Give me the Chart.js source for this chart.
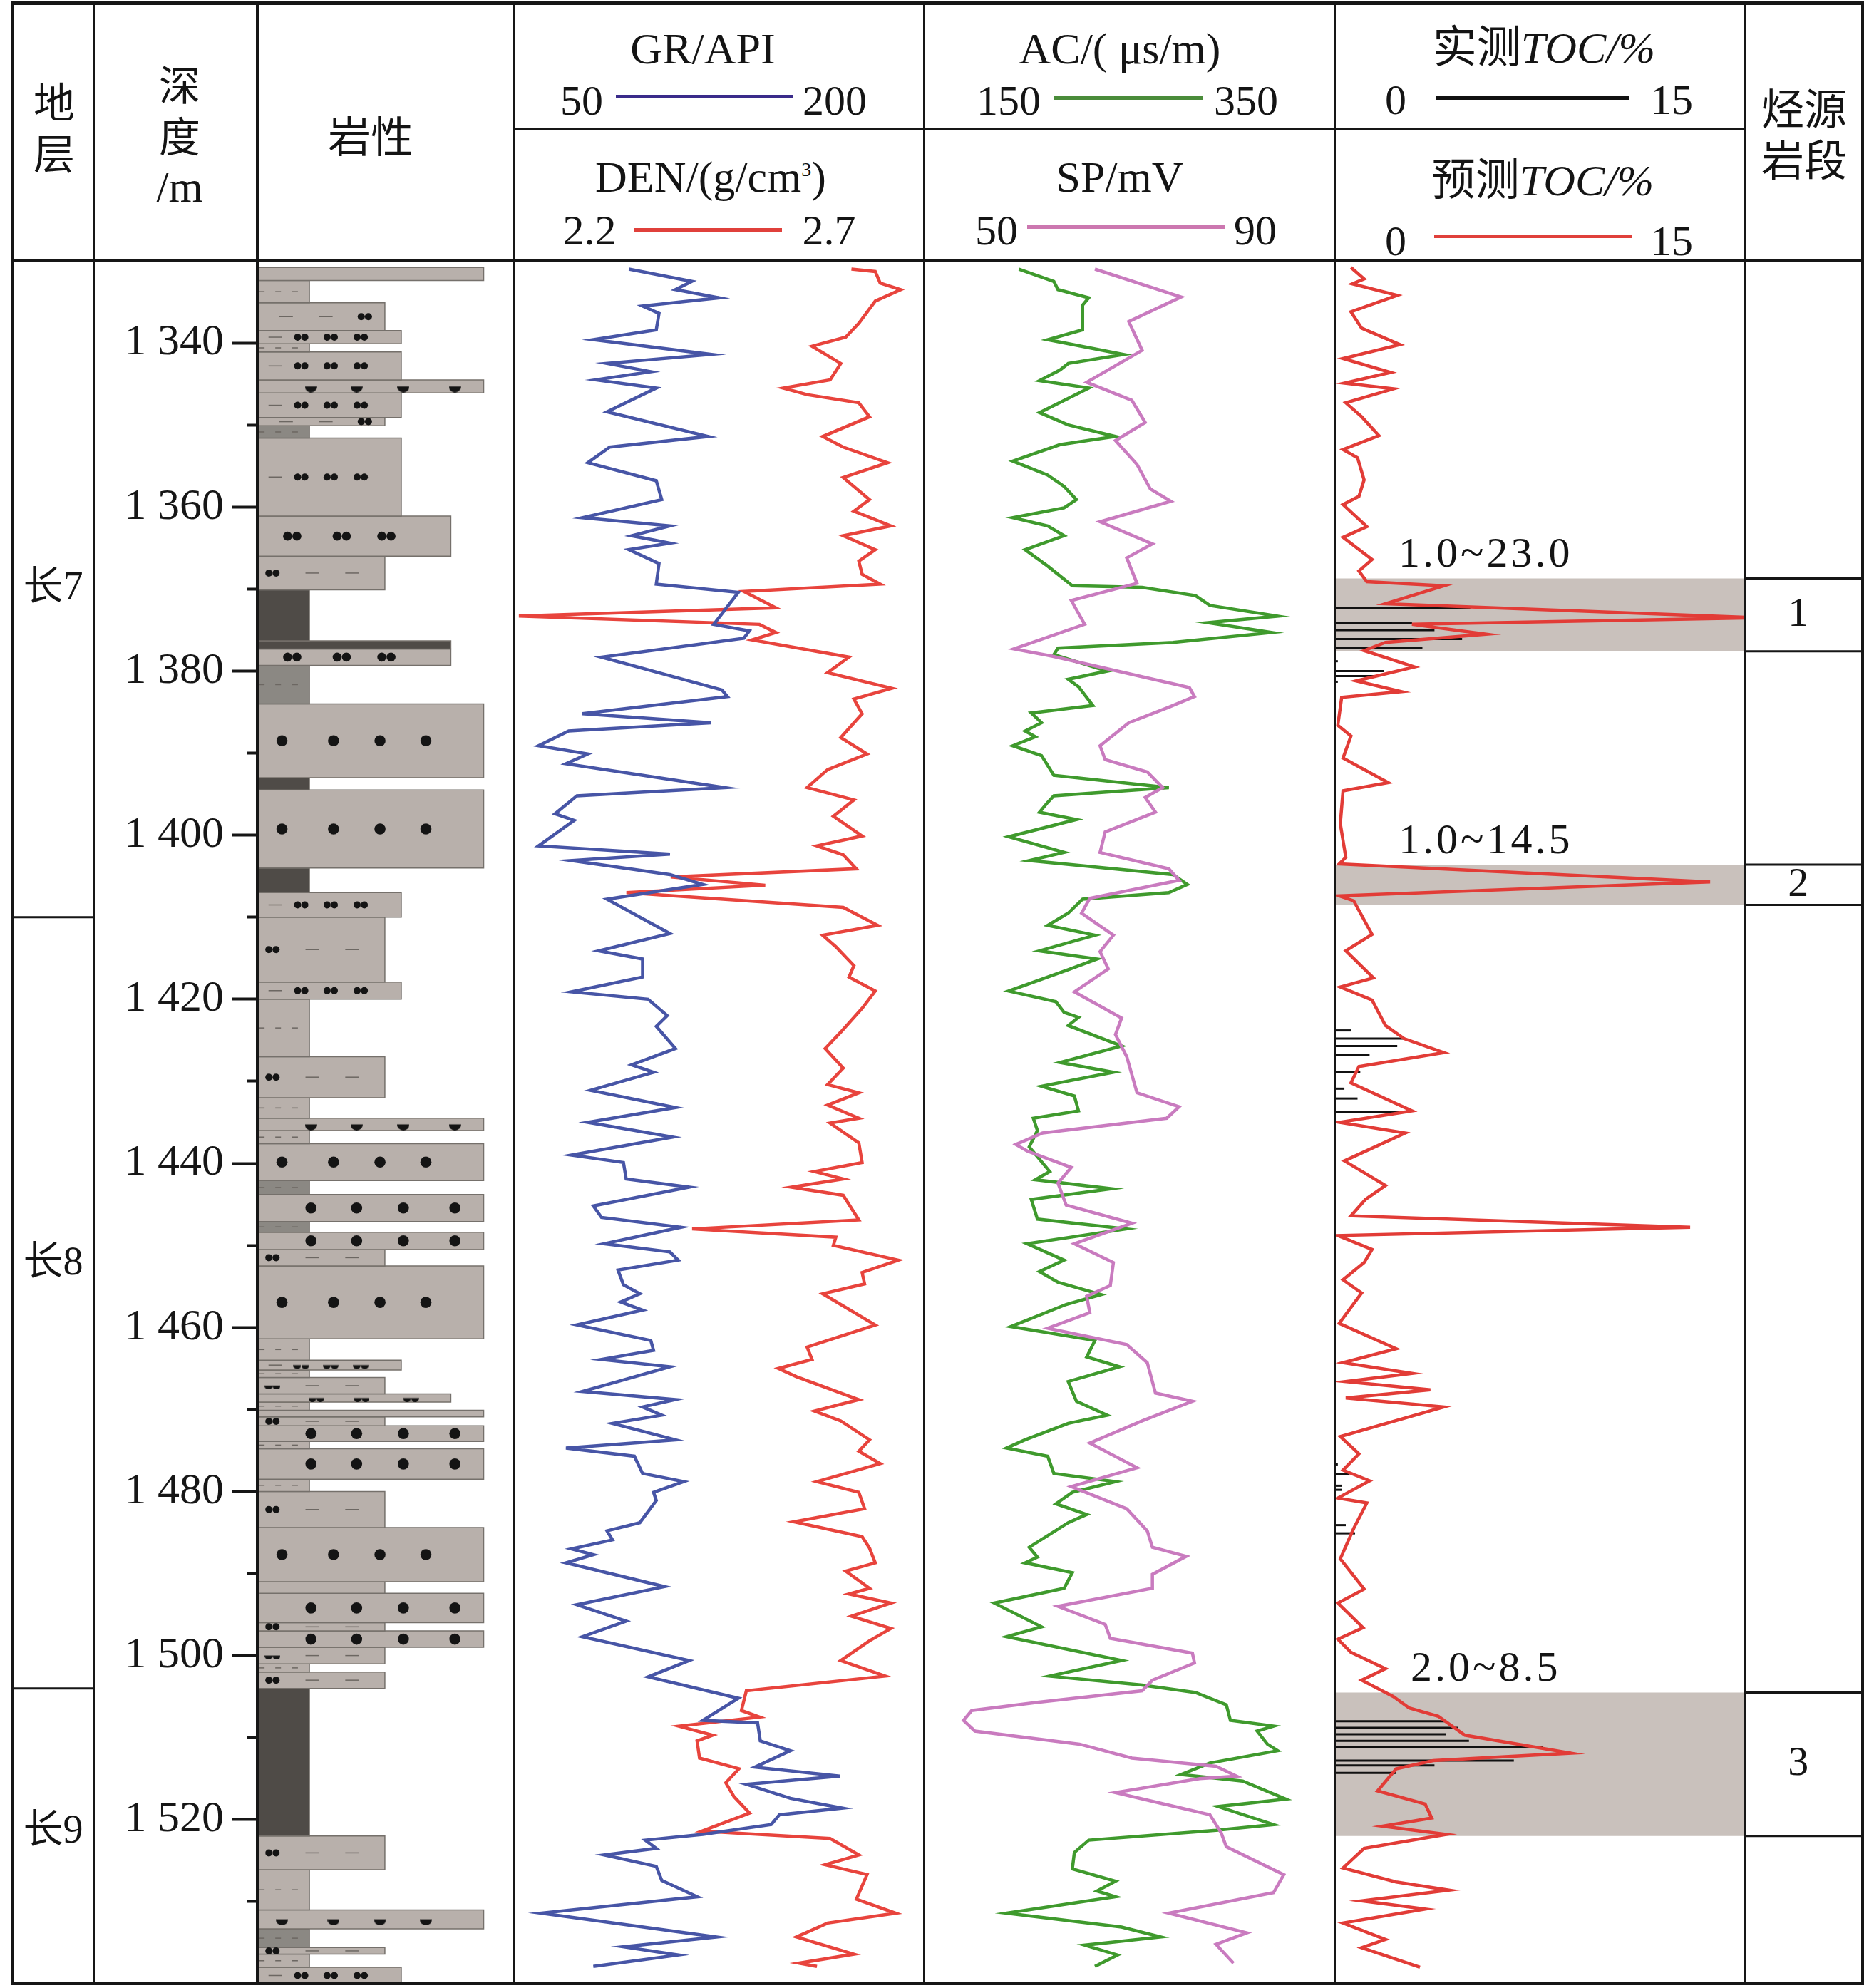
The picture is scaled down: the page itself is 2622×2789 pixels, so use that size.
<!DOCTYPE html>
<html><head><meta charset="utf-8">
<script src="https://cdn.jsdelivr.net/npm/chart.js@4.4.0/dist/chart.umd.min.js"></script>
<style>
html,body{margin:0;padding:0;background:#fff;}
body{width:2622px;height:2789px;position:relative;overflow:hidden;font-family:"Liberation Serif","Noto Sans CJK SC",serif;color:#141414;}
canvas{position:absolute;}
.ln{position:absolute;background:#161616;z-index:5;}
.sw{position:absolute;z-index:5;}
.t{position:absolute;white-space:nowrap;transform:translate(-50%,-50%);line-height:1;z-index:6;}
.cjk{font-family:"Noto Sans CJK SC",sans-serif;}
</style></head><body>

<!-- header texts -->
<div class="t cjk" style="left:76px;top:140px;font-size:58px">地</div>
<div class="t cjk" style="left:76px;top:212px;font-size:58px">层</div>
<div class="t cjk" style="left:252px;top:116px;font-size:58px">深</div>
<div class="t cjk" style="left:252px;top:188px;font-size:58px">度</div>
<div class="t" style="left:252px;top:262px;font-size:62px">/m</div>
<div class="t cjk" style="left:520px;top:188px;font-size:60px">岩性</div>

<div class="t" style="left:986px;top:68px;font-size:62px">GR/API</div>
<div class="t" style="left:816px;top:141px;font-size:60px">50</div>
<div class="sw" style="left:864px;top:133px;width:248px;height:5px;background:#3a2b8a"></div>
<div class="t" style="left:1171px;top:141px;font-size:60px">200</div>
<div class="t" style="left:997px;top:248px;font-size:62px">DEN/(g/cm<sup style="font-size:28px">3</sup>)</div>
<div class="t" style="left:827px;top:323px;font-size:60px">2.2</div>
<div class="sw" style="left:890px;top:320px;width:207px;height:5px;background:#e0403b"></div>
<div class="t" style="left:1163px;top:323px;font-size:60px">2.7</div>

<div class="t" style="left:1571px;top:68px;font-size:62px">AC/( μs/m)</div>
<div class="t" style="left:1415px;top:141px;font-size:60px">150</div>
<div class="sw" style="left:1478px;top:135px;width:209px;height:5px;background:#4a8c3a"></div>
<div class="t" style="left:1748px;top:141px;font-size:60px">350</div>
<div class="t" style="left:1571px;top:248px;font-size:62px">SP/mV</div>
<div class="t" style="left:1398px;top:323px;font-size:60px">50</div>
<div class="sw" style="left:1441px;top:316px;width:278px;height:5px;background:#cc77b0"></div>
<div class="t" style="left:1761px;top:323px;font-size:60px">90</div>

<div class="t" style="left:2166px;top:64px;font-size:62px"><span class="cjk">实测</span><i>TOC/%</i></div>
<div class="t" style="left:1958px;top:140px;font-size:60px">0</div>
<div class="sw" style="left:2014px;top:135px;width:272px;height:5px;background:#111"></div>
<div class="t" style="left:2345px;top:140px;font-size:60px">15</div>
<div class="t" style="left:2164px;top:250px;font-size:62px"><span class="cjk">预测</span><i>TOC/%</i></div>
<div class="t" style="left:1958px;top:338px;font-size:60px">0</div>
<div class="sw" style="left:2012px;top:329px;width:278px;height:5px;background:#e0403b"></div>
<div class="t" style="left:2345px;top:338px;font-size:60px">15</div>

<div class="t cjk" style="left:2531px;top:149px;font-size:60px">烃源</div>
<div class="t cjk" style="left:2531px;top:221px;font-size:60px">岩段</div>

<!-- chart canvases (data area y 366..2783) -->
<canvas id="cStrata" width="115" height="2417" style="left:17px;top:366px;width:115px;height:2417px"></canvas>
<canvas id="cLith" width="589" height="2417" style="left:132px;top:366px;width:589px;height:2417px"></canvas>
<canvas id="cGR" width="576" height="2417" style="left:721px;top:366px;width:576px;height:2417px"></canvas>
<canvas id="cAC" width="576" height="2417" style="left:1297px;top:366px;width:576px;height:2417px"></canvas>
<canvas id="cTOC" width="576" height="2417" style="left:1873px;top:366px;width:576px;height:2417px"></canvas>
<canvas id="cSrc" width="164" height="2417" style="left:2449px;top:366px;width:164px;height:2417px"></canvas>

<!-- table frame -->
<div class="ln" style="left:15px;top:2px;width:2600px;height:5px"></div>
<div class="ln" style="left:15px;top:2780px;width:2600px;height:5px"></div>
<div class="ln" style="left:15px;top:364px;width:2600px;height:4px"></div>
<div class="ln" style="left:721px;top:180px;width:1728px;height:3px"></div>
<div class="ln" style="left:15px;top:2px;width:4px;height:2783px"></div>
<div class="ln" style="left:130px;top:2px;width:3px;height:2783px"></div>
<div class="ln" style="left:359px;top:2px;width:4px;height:2783px"></div>
<div class="ln" style="left:719px;top:2px;width:3px;height:2783px"></div>
<div class="ln" style="left:1295px;top:2px;width:3px;height:2783px"></div>
<div class="ln" style="left:1871px;top:2px;width:3px;height:2783px"></div>
<div class="ln" style="left:2447px;top:2px;width:3px;height:2783px"></div>
<div class="ln" style="left:2611px;top:2px;width:4px;height:2783px"></div>

<script>
// ---------------- DATA ----------------
const DEPTH_MIN = 1330, DEPTH_MAX = 1540;
const depthTicks = [1340, 1360, 1380, 1400, 1420, 1440, 1460, 1480, 1500, 1520];
const depthMinorTicks = [1340, 1350, 1360, 1370, 1380, 1390, 1400, 1410, 1420, 1430, 1440, 1450, 1460, 1470, 1480, 1490, 1500, 1510, 1520, 1530];

const strataNames = ['长7', '长8', '长9'];
const strataTop = [1330, 1410, 1504];
const strataBot = [1410, 1504, 1540];
const strataLabelDepth = [1370, 1452.3, 1521.5];

const zoneNames = ['1', '2', '3'];
const zoneTop = [1368.7, 1403.6, 1504.5];
const zoneBot = [1377.6, 1408.5, 1522.0];
const zoneRange = ['1.0~23.0', '1.0~14.5', '2.0~8.5'];

// lithology layers: top, base, code
const lithTop = [1330.8,1332.4,1335.1,1338.5,1340.1,1341.1,1344.5,1346.1,1349.1,1350.1,1351.6,1361.1,1366.0,1370.1,1376.3,1377.3,1379.3,1384.0,1393.0,1394.5,1404.0,1407.0,1410.0,1417.9,1420.0,1427.0,1432.0,1434.5,1436.0,1437.6,1442.1,1443.8,1447.1,1448.4,1450.5,1452.5,1461.4,1464.0,1465.2,1466.1,1468.1,1469.1,1470.1,1470.9,1472.0,1473.9,1474.8,1478.5,1480.0,1484.4,1491.0,1492.4,1496.0,1497.0,1499.0,1501.0,1502.0,1504.0,1522.0,1526.1,1531.0,1533.3,1535.6,1536.4,1538.0];
const lithBot = [1332.4,1335.1,1338.5,1340.1,1341.1,1344.5,1346.1,1349.1,1350.1,1351.6,1361.1,1366.0,1370.1,1376.3,1377.3,1379.3,1384.0,1393.0,1394.5,1404.0,1407.0,1410.0,1417.9,1420.0,1427.0,1432.0,1434.5,1436.0,1437.6,1442.1,1443.8,1447.1,1448.4,1450.5,1452.5,1461.4,1464.0,1465.2,1466.1,1468.1,1469.1,1470.1,1470.9,1472.0,1473.9,1474.8,1478.5,1480.0,1484.4,1491.0,1492.4,1496.0,1497.0,1499.0,1501.0,1502.0,1504.0,1522.0,1526.1,1531.0,1533.3,1535.6,1536.4,1538.0,1540.0];
const lithCode = ['P88','M','LS','ST','M','ST','Gb','ST','LS','Md','ST','FS','SL','S','S75','FS','Md','MSa','S','MSa','S','ST','SL','ST','M','SL','M','Gb','M','MSa','Md','MSb','Md','MSb','SL','MSa','M','STh','M','SLh','FSh','M','P88','SL','MSb','M','MSb','M','SL','MSa','P50','MSb','SL','MSb','SLh','M','SL','S','SL','M','Ga','Md','SL','M','ST'];

// GR (API)
const grDepth = [1331.0,1332.5,1333.5,1334.5,1335.5,1336.4,1338.4,1339.6,1341.4,1342.5,1343.5,1344.5,1345.5,1348.4,1351.4,1352.7,1354.6,1356.8,1359.1,1361.3,1362.3,1363.5,1364.4,1365.2,1366.9,1369.4,1370.4,1374.3,1375.1,1376.0,1378.3,1382.3,1383.1,1385.2,1386.3,1387.3,1389.1,1390.1,1391.3,1394.2,1395.2,1397.4,1398.2,1401.3,1402.3,1403.1,1404.8,1406.0,1407.8,1412.0,1414.1,1415.1,1417.3,1419.1,1420.0,1422.0,1423.3,1426.0,1428.0,1428.9,1431.1,1433.2,1435.0,1436.8,1439.0,1439.9,1441.9,1442.9,1445.2,1446.6,1447.8,1449.8,1450.8,1451.8,1453.0,1454.8,1455.9,1456.9,1457.9,1459.7,1461.6,1462.8,1463.9,1464.8,1466.6,1467.8,1468.8,1469.7,1470.7,1471.7,1473.7,1474.7,1475.7,1477.8,1478.8,1480.1,1481.1,1483.8,1484.8,1485.9,1487.0,1487.7,1488.7,1491.6,1493.8,1495.8,1497.7,1500.6,1502.6,1505.2,1507.9,1508.2,1510.4,1511.6,1513.6,1514.7,1515.7,1517.4,1518.6,1519.4,1520.6,1521.8,1522.5,1523.5,1524.3,1525.7,1527.4,1529.4,1531.4,1534.3,1535.5,1536.5,1537.9];
const grValue = [92,115,109,125,97,103,102,79,122,84,100,80,102,84,121,85,77,102,104,75,107,93,107,92,103,102,132,123,136,134,82,126,128,75,122,70,59,77,69,127,73,65,72,59,107,71,107,119,84,107,81,97,97,71,99,106,102,109,93,101,78,109,77,108,71,90,91,114,79,82,111,83,107,110,88,90,96,89,97,73,100,101,82,107,88,75,109,97,104,86,109,69,94,97,112,101,102,96,84,86,71,79,69,105,73,91,75,114,99,132,119,139,140,151,138,169,135,151,170,147,144,119,98,102,83,102,104,117,60,124,90,110,79];

// DEN (g/cm3)
const denDepth = [1331.0,1331.3,1332.7,1333.5,1334.9,1337.6,1339.3,1340.4,1342.5,1344.5,1345.5,1346.3,1347.3,1349.0,1351.4,1352.7,1354.6,1356.4,1359.1,1360.5,1362.3,1363.5,1365.2,1366.6,1368.2,1369.4,1370.3,1372.3,1373.3,1374.3,1375.3,1376.2,1378.3,1380.2,1382.1,1383.4,1385.2,1388.1,1390.1,1392.0,1394.2,1395.7,1397.7,1400.1,1401.3,1402.4,1404.1,1405.1,1406.1,1407.0,1408.8,1411.0,1412.2,1413.6,1415.9,1417.3,1419.0,1421.1,1424.0,1426.0,1428.4,1430.4,1431.4,1432.9,1434.5,1435.1,1437.5,1439.9,1441.0,1441.9,1442.9,1443.9,1446.9,1448.0,1449.0,1450.0,1451.8,1453.3,1454.7,1455.9,1459.7,1462.4,1463.9,1465.0,1466.0,1468.8,1470.2,1471.4,1473.7,1475.1,1476.6,1478.8,1480.1,1482.1,1483.7,1485.5,1486.9,1488.7,1489.7,1491.8,1492.5,1493.6,1495.2,1496.7,1498.2,1500.6,1502.5,1504.3,1506.7,1507.5,1508.6,1509.7,1510.4,1512.5,1513.8,1515.5,1517.2,1519.2,1521.4,1522.3,1524.3,1525.5,1526.7,1529.7,1531.4,1532.6,1534.3,1536.4,1537.5,1537.9];
const denValue = [2.611,2.640,2.646,2.671,2.640,2.620,2.604,2.563,2.598,2.585,2.528,2.557,2.620,2.633,2.576,2.601,2.655,2.601,2.633,2.614,2.659,2.601,2.640,2.620,2.624,2.646,2.480,2.519,2.206,2.499,2.519,2.490,2.608,2.582,2.660,2.614,2.624,2.598,2.630,2.582,2.557,2.614,2.589,2.624,2.569,2.601,2.617,2.391,2.506,2.337,2.601,2.643,2.576,2.592,2.614,2.608,2.640,2.624,2.598,2.579,2.601,2.582,2.620,2.582,2.620,2.585,2.620,2.624,2.566,2.601,2.538,2.601,2.620,2.417,2.592,2.589,2.668,2.624,2.627,2.576,2.640,2.557,2.563,2.522,2.544,2.620,2.566,2.598,2.633,2.620,2.646,2.569,2.620,2.627,2.541,2.624,2.633,2.640,2.604,2.633,2.608,2.659,2.611,2.659,2.633,2.598,2.652,2.483,2.477,2.499,2.401,2.442,2.423,2.426,2.474,2.458,2.468,2.487,2.429,2.585,2.620,2.579,2.630,2.617,2.665,2.582,2.544,2.614,2.547,2.569];

// AC (us/m)
const acDepth = [1331.0,1332.5,1333.5,1334.5,1335.4,1338.4,1339.6,1341.4,1342.5,1343.3,1344.6,1345.5,1347.0,1348.5,1350.0,1351.4,1352.4,1354.4,1356.1,1357.5,1359.1,1360.1,1361.3,1362.3,1363.5,1365.2,1367.2,1369.6,1369.8,1370.8,1372.0,1373.3,1374.1,1375.3,1376.5,1377.2,1378.0,1380.0,1381.0,1381.9,1384.2,1385.1,1386.3,1387.3,1388.0,1389.1,1390.3,1392.7,1394.2,1395.2,1396.0,1397.2,1398.1,1400.2,1402.1,1403.1,1404.8,1406.0,1407.0,1407.8,1409.5,1411.0,1412.2,1414.1,1415.1,1416.4,1419.0,1420.3,1421.6,1422.2,1423.2,1425.7,1427.7,1428.9,1430.6,1431.8,1433.6,1434.5,1436.0,1438.0,1441.0,1442.0,1443.1,1444.4,1446.8,1448.0,1449.8,1451.8,1453.2,1454.5,1456.0,1457.2,1459.9,1461.6,1463.6,1464.8,1466.6,1469.0,1470.7,1471.7,1473.7,1474.7,1475.7,1477.8,1478.8,1480.1,1481.5,1482.8,1483.8,1486.8,1488.0,1488.7,1489.9,1491.8,1493.6,1496.5,1497.7,1500.6,1502.5,1503.6,1504.5,1506.0,1507.9,1508.6,1509.2,1510.8,1511.6,1513.1,1514.5,1515.3,1517.5,1518.4,1520.6,1521.3,1522.5,1524.0,1526.0,1527.5,1528.7,1529.4,1531.4,1533.1,1534.3,1535.3,1536.5,1537.9];
const acValue = [196,213,215,230,227,227,210,247,220,216,206,230,218,206,220,243,216,193,210,218,224,218,193,210,218,199,210,222,256,282,289,322,288,319,271,215,213,239,220,225,232,202,207,199,204,193,207,213,269,213,210,206,224,191,218,201,271,278,269,227,220,210,233,206,234,220,191,214,218,225,220,246,216,242,207,223,225,203,205,201,211,204,241,202,205,248,200,218,206,215,236,219,192,233,229,245,220,224,239,220,199,190,210,213,243,222,214,229,220,201,205,199,222,218,184,207,190,246,211,256,282,297,299,320,312,317,322,289,275,305,326,293,320,292,230,223,222,243,234,243,190,246,265,228,244,233];

// SP (mV)
const spDepth = [1331.0,1334.4,1337.4,1340.9,1344.8,1347.0,1349.7,1351.9,1354.8,1357.8,1359.3,1361.8,1364.5,1366.2,1369.3,1371.4,1374.3,1377.3,1378.2,1382.0,1383.1,1384.4,1386.3,1389.1,1390.8,1392.3,1394.2,1395.4,1397.2,1399.6,1402.1,1404.1,1405.5,1407.7,1409.5,1412.2,1414.2,1416.3,1419.1,1422.3,1424.3,1427.0,1431.4,1433.1,1434.5,1436.3,1437.7,1438.5,1440.5,1442.4,1445.1,1447.3,1449.8,1452.1,1454.9,1456.2,1458.2,1460.1,1462.1,1464.3,1468.0,1469.0,1471.4,1474.1,1477.1,1479.4,1482.1,1484.8,1486.8,1487.9,1490.1,1491.8,1494.0,1496.2,1497.9,1499.7,1500.9,1503.0,1504.3,1505.7,1506.7,1507.9,1509.2,1510.8,1512.5,1513.5,1514.7,1515.0,1516.7,1518.0,1519.4,1521.6,1523.3,1526.7,1528.9,1531.4,1533.8,1535.2,1537.5];
const spValue = [66.6,75.0,69.9,71.2,65.8,70.2,71.5,68.6,70.7,72.0,74.0,67.1,72.2,69.7,70.7,64.3,65.6,58.7,62.5,75.8,76.3,73.8,69.9,67.1,67.6,71.7,73.2,71.5,72.5,67.6,67.1,73.8,74.8,66.1,65.3,68.4,67.1,67.9,64.6,69.2,68.6,69.7,70.7,74.8,73.6,61.5,58.9,60.0,64.3,63.0,63.8,70.2,64.6,68.4,68.1,65.8,66.1,62.0,69.7,71.7,72.5,76.1,71.2,66.1,70.7,64.3,69.7,71.7,72.2,75.5,72.2,72.2,63.0,67.6,68.1,76.1,76.3,72.2,71.2,61.0,54.6,53.8,54.9,65.1,70.2,78.4,80.4,76.8,68.6,73.0,77.8,78.9,79.4,85.0,84.0,73.8,81.4,78.4,80.1];

// predicted TOC (%)
const tocPredDepth = [1330.8,1332.2,1332.8,1334.2,1336.2,1338.2,1340.2,1341.9,1343.6,1344.9,1345.6,1347.3,1349.0,1351.3,1353.0,1354.0,1356.7,1358.7,1359.7,1362.4,1363.7,1366.4,1367.8,1369.1,1369.6,1371.8,1373.5,1374.3,1375.5,1376.5,1377.5,1379.5,1381.2,1382.5,1383.2,1386.6,1387.9,1390.6,1393.6,1394.6,1398.6,1402.7,1403.5,1405.7,1407.4,1408.0,1412.1,1414.1,1417.4,1418.5,1420.1,1423.2,1424.8,1426.5,1428.2,1430.2,1433.6,1435.0,1436.3,1439.7,1442.7,1444.4,1446.4,1447.8,1448.8,1450.5,1452.1,1454.2,1455.8,1459.5,1462.6,1464.3,1465.6,1466.6,1467.6,1468.6,1469.7,1473.3,1475.4,1477.4,1478.7,1480.8,1481.4,1484.5,1488.2,1491.9,1493.6,1496.6,1498.0,1499.6,1501.6,1503.0,1505.0,1506.4,1507.4,1509.7,1511.9,1512.8,1513.8,1516.5,1518.1,1519.8,1520.8,1521.8,1523.5,1525.9,1527.6,1528.6,1529.9,1530.9,1532.6,1534.6,1535.6,1538.0];
const tocPredValue = [0.58,1.06,0.63,2.27,0.58,0.97,2.37,0.29,2.03,0.34,2.13,0.39,0.97,1.60,0.29,0.82,1.06,0.87,0.29,1.16,0.29,1.35,0.87,1.16,3.97,1.84,15.5,2.81,5.52,1.84,1.06,2.90,0.77,2.42,0.24,0.10,0.58,0.29,1.94,0.29,0.19,0.39,0.15,13.7,0.15,0.68,1.35,0.39,1.40,0.19,1.35,1.84,2.52,3.97,0.87,0.58,2.81,0.15,2.56,0.34,1.84,1.11,0.58,12.97,0.10,1.35,1.06,0.29,0.97,0.15,2.23,0.29,2.81,0.39,3.48,0.39,3.97,0.19,0.87,0.29,1.26,0.10,1.16,0.68,0.19,1.06,0.10,1.02,0.10,0.58,1.84,0.97,2.13,2.71,3.77,4.74,8.61,3.58,2.23,1.55,3.29,3.53,1.74,4.06,1.06,0.29,2.23,4.16,0.97,3.29,0.29,1.84,0.97,3.10];

// measured TOC (%)
const tocMeasDepth = [1372.3,1374.1,1375.0,1376.1,1377.2,1378.8,1380.0,1380.6,1381.3,1423.8,1424.8,1425.7,1426.8,1428.9,1430.9,1432.1,1433.7,1476.7,1477.9,1479.3,1479.8,1484.1,1485.1,1508.0,1508.8,1509.6,1510.4,1511.2,1512.8,1513.4,1514.3];
const tocMeasValue = [4.94,2.81,3.63,4.64,3.19,0.10,1.79,1.60,0.10,0.58,2.52,2.27,1.26,0.92,0.34,0.82,2.52,0.10,0.53,0.24,0.24,0.39,0.73,4.06,4.50,4.06,4.89,7.60,6.53,3.63,2.23];

// ---------------- STYLE ----------------
const LIGHT = '#b8b0ab', MID = '#8b8883', DARK = '#4f4b47', EDGE = '#75706b';
const W_MUD = 20.3, W_SLT = 49.7, W_ST = 56.1, W_FS = 75.4, W_MS = 88.2;
const PAT = {
  mud:  [['sdash', 1.7], ['sdash', 8.1], ['sdash', 14.7]],
  ST:   [['dash', 7.0], ['pair', 17.1], ['pair', 28.6], ['pair', 40.3]],
  STh:  [['dash', 7.0], ['hpair', 17.1], ['hpair', 28.6], ['hpair', 40.3]],
  LS:   [['dash', 11.2], ['dash', 26.7], ['pair', 41.9]],
  SL:   [['pair', 5.9], ['dash', 21.4], ['dash', 36.9]],
  SLh:  [['hpair', 5.9], ['dash', 21.4], ['dash', 36.9]],
  FS:   [['bpair', 13.6], ['bpair', 32.9], ['bpair', 50.3]],
  FSh:  [['hpair', 23.0], ['hpair', 40.6], ['hpair', 59.9]],
  bigA: [['big', 9.6], ['big', 29.7], ['big', 47.8], ['big', 65.7]],
  bigB: [['big', 20.9], ['big', 38.7], ['big', 56.9], ['big', 77.0]],
  halfA:[['half', 9.6], ['half', 29.7], ['half', 47.8], ['half', 65.7]],
  halfB:[['half', 20.9], ['half', 38.7], ['half', 56.9], ['half', 77.0]]
};
const LITH_STYLE = {
  P88: {w: W_MS, fill: LIGHT, pat: null},
  P50: {w: W_SLT, fill: LIGHT, pat: null},
  M:   {w: W_MUD, fill: LIGHT, pat: 'mud'},
  Md:  {w: W_MUD, fill: MID, pat: 'mud'},
  S:   {w: W_MUD, fill: DARK, pat: null},
  S75: {w: W_FS, fill: DARK, pat: null},
  LS:  {w: W_SLT, fill: LIGHT, pat: 'LS'},
  SL:  {w: W_SLT, fill: LIGHT, pat: 'SL'},
  SLh: {w: W_SLT, fill: LIGHT, pat: 'SLh'},
  ST:  {w: W_ST, fill: LIGHT, pat: 'ST'},
  STh: {w: W_ST, fill: LIGHT, pat: 'STh'},
  FS:  {w: W_FS, fill: LIGHT, pat: 'FS'},
  FSh: {w: W_FS, fill: LIGHT, pat: 'FSh'},
  MSa: {w: W_MS, fill: LIGHT, pat: 'bigA'},
  MSb: {w: W_MS, fill: LIGHT, pat: 'bigB'},
  Ga:  {w: W_MS, fill: LIGHT, pat: 'halfA'},
  Gb:  {w: W_MS, fill: LIGHT, pat: 'halfB'}
};

function halfDisc(w) {
  const c = document.createElement('canvas');
  c.width = w; c.height = w;
  const g = c.getContext('2d');
  g.fillStyle = '#141414';
  g.beginPath();
  g.moveTo(0, w / 2);
  g.arc(w / 2, w / 2, w / 2, 0, Math.PI, false);
  g.closePath();
  g.fill();
  return c;
}
const HALF_BIG = halfDisc(17), HALF_SMALL = halfDisc(11);

// text plugin: draws labels at data positions through the chart scales
const textPlugin = {
  id: 'depthText',
  afterDatasetsDraw(chart, args, opts) {
    const items = (opts && opts.items) || [];
    const ctx = chart.ctx;
    ctx.save();
    ctx.textAlign = 'center';
    ctx.textBaseline = 'middle';
    items.forEach(it => {
      const x = chart.scales.x.getPixelForValue(it.x);
      const y = chart.scales.y.getPixelForValue(it.y);
      ctx.font = it.font;
      if ('letterSpacing' in ctx) ctx.letterSpacing = it.spacing || '0px';
      ctx.fillStyle = it.color || '#141414';
      ctx.fillText(it.text, x, y);
    });
    ctx.restore();
  }
};

function baseOptions(xScales) {
  return {
    responsive: false, animation: false, devicePixelRatio: 1, events: [],
    layout: {padding: 0, autoPadding: false},
    plugins: {legend: {display: false}, tooltip: {enabled: false}},
    elements: {point: {radius: 0}, line: {tension: 0}},
    scales: Object.assign({
      y: {type: 'linear', min: DEPTH_MIN, max: DEPTH_MAX, reverse: true, display: false}
    }, xScales)
  };
}
function pairs(ds, vs) { return ds.map((d, i) => ({x: vs[i], y: d})); }
function curve(data, color, axis) {
  return {data, xAxisID: axis, showLine: true, borderColor: color, borderWidth: 4.5, pointRadius: 0, fill: false, order: 0};
}
function hline(d, x0, x1, color, w) {
  return {data: [{x: x0, y: d}, {x: x1, y: d}], showLine: true, borderColor: color, borderWidth: w, pointRadius: 0, fill: false, order: 0};
}
function rect(x0, x1, t, b, fillColor, edge, ew, order) {
  return {data: [{x: x0, y: t}, {x: x1, y: t}, {x: x1, y: b}, {x: x0, y: b}, {x: x0, y: t}],
    showLine: true, fill: 'shape', backgroundColor: fillColor, borderColor: edge, borderWidth: ew, pointRadius: 0, order};
}

// ---------------- STRATA COLUMN ----------------
(function () {
  const ds = [];
  strataTop.slice(1).forEach(d => ds.push(hline(d, 0, 1, '#161616', 3)));
  const opts = baseOptions({x: {type: 'linear', min: 0, max: 1, display: false}});
  opts.plugins.depthText = {items: strataNames.map((n, i) => ({text: n, x: 0.5, y: strataLabelDepth[i], font: '56px "Liberation Serif", "Noto Sans CJK SC"'}))};
  new Chart(document.getElementById('cStrata'), {type: 'scatter', data: {datasets: ds}, options: opts, plugins: [textPlugin]});
})();

// ---------------- DEPTH + LITHOLOGY ----------------
(function () {
  const ds = [];
  const sym = {sdash: [], dash: [], pair: [], bpair: [], big: [], half: [], hpair: []};
  lithTop.forEach((t, i) => {
    const st = LITH_STYLE[lithCode[i]];
    const b = lithBot[i];
    ds.push(rect(0, st.w, t, b, st.fill, EDGE, 1.5, 5));
    if (st.pat) {
      const yc = (t + b) / 2;
      PAT[st.pat].forEach(([k, x]) => {
        if (k === 'pair') { sym.pair.push({x: x - 1.4, y: yc}, {x: x + 1.4, y: yc}); }
        else if (k === 'bpair') { sym.bpair.push({x: x - 1.8, y: yc}, {x: x + 1.8, y: yc}); }
        else if (k === 'hpair') { sym.hpair.push({x: x - 1.55, y: yc}, {x: x + 1.55, y: yc}); }
        else sym[k].push({x, y: yc});
      });
    }
  });
  ds.push({data: sym.sdash, pointStyle: 'line', pointRadius: 4, pointBorderColor: '#6c6762', pointBorderWidth: 1.5, order: 0});
  ds.push({data: sym.dash, pointStyle: 'line', pointRadius: 9.5, pointBorderColor: '#6c6762', pointBorderWidth: 1.5, order: 0});
  ds.push({data: sym.pair, pointStyle: 'circle', pointRadius: 5, pointBackgroundColor: '#141414', pointBorderWidth: 0, order: 0});
  ds.push({data: sym.bpair, pointStyle: 'circle', pointRadius: 6.3, pointBackgroundColor: '#141414', pointBorderWidth: 0, order: 0});
  ds.push({data: sym.big, pointStyle: 'circle', pointRadius: 7.8, pointBackgroundColor: '#141414', pointBorderWidth: 0, order: 0});
  ds.push({data: sym.half, pointStyle: HALF_BIG, pointRadius: 6, order: 0});
  ds.push({data: sym.hpair, pointStyle: HALF_SMALL, pointRadius: 5, order: 0});

  const fmt = v => { const s = String(v); return s[0] + ' ' + s.slice(1); };
  const opts = baseOptions({x: {type: 'linear', min: 0, max: 100, display: false}});
  opts.scales.y = {
    type: 'linear', position: 'left', min: DEPTH_MIN, max: DEPTH_MAX, reverse: true, weight: 1,
    border: {display: false},
    grid: {drawOnChartArea: false, drawTicks: true, tickLength: 21, tickWidth: 4, tickColor: '#161616'},
    ticks: {padding: 11, color: '#161616', font: {family: '"Liberation Serif"', size: 62}, callback: v => fmt(v)},
    afterBuildTicks: s => { s.ticks = depthTicks.map(v => ({value: v})); },
    afterFit: s => { s.width = 214; s.paddingTop = 0; s.paddingBottom = 0; }
  };
  opts.scales.yMinor = {
    type: 'linear', position: 'left', min: DEPTH_MIN, max: DEPTH_MAX, reverse: true, weight: 0,
    border: {display: false},
    grid: {drawOnChartArea: false, drawTicks: true, tickLength: 15, tickWidth: 4, tickColor: '#161616'},
    ticks: {padding: 0, callback: () => ''},
    afterBuildTicks: s => { s.ticks = depthMinorTicks.map(v => ({value: v})); },
    afterFit: s => { s.width = 15; s.paddingTop = 0; s.paddingBottom = 0; }
  };
  new Chart(document.getElementById('cLith'), {type: 'scatter', data: {datasets: ds}, options: opts});
})();

// ---------------- GR / DEN ----------------
new Chart(document.getElementById('cGR'), {
  type: 'scatter',
  data: {datasets: [
    curve(pairs(grDepth, grValue), '#4755a6', 'xGR'),
    curve(pairs(denDepth, denValue), '#e8443d', 'xDEN')
  ]},
  options: baseOptions({
    xGR: {type: 'linear', min: 50, max: 200, display: false},
    xDEN: {type: 'linear', min: 2.2, max: 2.7, display: false}
  })
});

// ---------------- AC / SP ----------------
new Chart(document.getElementById('cAC'), {
  type: 'scatter',
  data: {datasets: [
    curve(pairs(spDepth, spValue), '#c97bbf', 'xSP'),
    curve(pairs(acDepth, acValue), '#3f9a2d', 'xAC')
  ]},
  options: baseOptions({
    xAC: {type: 'linear', min: 150, max: 350, display: false},
    xSP: {type: 'linear', min: 50, max: 90, display: false}
  })
});

// ---------------- TOC ----------------
(function () {
  const ds = [];
  ds.push(curve(pairs(tocPredDepth, tocPredValue), '#e23c37', 'x'));
  tocMeasDepth.forEach((d, i) => ds.push(hline(d, 0, tocMeasValue[i], '#111111', 3)));
  zoneTop.forEach((t, i) => ds.push(rect(0, 15, t, zoneBot[i], '#c9c1bc', '#c9c1bc', 0, 5)));
  const opts = baseOptions({x: {type: 'linear', min: 0, max: 15, display: false}});
  opts.plugins.depthText = {items: zoneRange.map((r, i) => ({text: r, x: 5.5, y: zoneTop[i] - 2.8, font: '60px "Liberation Serif"', spacing: '4px'}))};
  new Chart(document.getElementById('cTOC'), {type: 'scatter', data: {datasets: ds}, options: opts, plugins: [textPlugin]});
})();

// ---------------- SOURCE ROCK INTERVALS ----------------
(function () {
  const ds = [];
  zoneTop.forEach((t, i) => { ds.push(hline(t, 0, 1, '#161616', 3)); ds.push(hline(zoneBot[i], 0, 1, '#161616', 3)); });
  const opts = baseOptions({x: {type: 'linear', min: 0, max: 1, display: false}});
  opts.plugins.depthText = {items: zoneNames.map((n, i) => ({text: n, x: 0.45, y: (zoneTop[i] + zoneBot[i]) / 2, font: '58px "Liberation Serif"'}))};
  new Chart(document.getElementById('cSrc'), {type: 'scatter', data: {datasets: ds}, options: opts, plugins: [textPlugin]});
})();
</script>
</body></html>
